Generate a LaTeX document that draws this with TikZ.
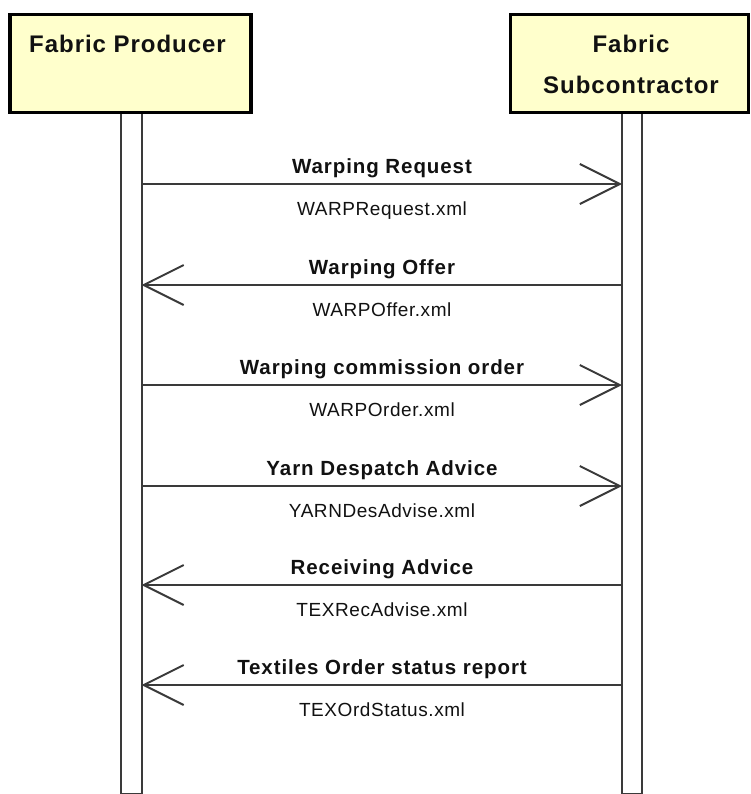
\documentclass[tikz,border=0pt]{standalone}
\usepackage{fontspec}
\setmainfont{Liberation Sans}
\newfontfamily\headfont[LetterSpace=4]{Liberation Sans}
\newfontfamily\msgfont[LetterSpace=4.5]{Liberation Sans}
\newfontfamily\filefont[LetterSpace=3]{Liberation Sans}
\usetikzlibrary{arrows.meta}
\definecolor{boxfill}{HTML}{FFFFCC}
\definecolor{lineclr}{HTML}{3A3A3A}
\definecolor{textclr}{HTML}{111111}
\begin{document}
\begin{tikzpicture}[x=1bp,y=-1bp,
  actorbox/.style={draw=black, line width=3.5bp, fill=boxfill, inner sep=0pt},
  lifeline/.style={draw=lineclr, line width=2bp, fill=white},
  msg/.style={draw=lineclr, line width=2bp,
    -{Straight Barb[length=40bp,width=40bp,line width=2bp]}},
  headtext/.style={anchor=base, inner sep=0pt, text=textclr,
    font=\headfont\bfseries\fontsize{24bp}{28bp}\selectfont},
  msgtext/.style={anchor=base, inner sep=0pt, text=textclr,
    font=\msgfont\bfseries\fontsize{20.5bp}{24bp}\selectfont},
  filetext/.style={anchor=base, inner sep=0pt, text=textclr,
    font=\filefont\fontsize{19bp}{23bp}\selectfont}]

\useasboundingbox (0,0) rectangle (751,794);

% lifelines
\draw[lifeline] (121,112.5) rectangle (141.5,793.5);
\draw[lifeline] (622,112.5) rectangle (642,793.5);

% participant boxes
\node[actorbox, minimum width=241.25bp, minimum height=98bp] (prodbox) at (130.4,63.5) {};
\node[actorbox, minimum width=238bp, minimum height=98bp] (subbox) at (629.5,63.5) {};
\node[headtext] (prodname) at (127.5,53) {Fabric Producer};
\node[headtext] (subname1) at (631,53) {Fabric};
\node[headtext] (subname2) at (631,93) {Subcontractor};

% message end points on the lifelines
\foreach \i/\y in {1/184,2/285,3/385,4/486,5/585,6/685}{
  \coordinate (p\i) at (141.5,\y);
  \coordinate (s\i) at (622,\y);
  \coordinate (m\i) at (382,\y);
}

% messages
\draw[msg] (p1) -- (s1);
\draw[msg] (s2) -- (p2);
\draw[msg] (p3) -- (s3);
\draw[msg] (p4) -- (s4);
\draw[msg] (s5) -- (p5);
\draw[msg] (s6) -- (p6);

% message names and document files
\node[msgtext]  (l1) at ([yshift=11bp]m1) {Warping Request};
\node[filetext] (f1) at ([yshift=-31bp]m1) {WARPRequest.xml};
\node[msgtext]  (l2) at ([yshift=11bp]m2) {Warping Offer};
\node[filetext] (f2) at ([yshift=-31bp]m2) {WARPOffer.xml};
\node[msgtext]  (l3) at ([yshift=11bp]m3) {Warping commission order};
\node[filetext] (f3) at ([yshift=-31bp]m3) {WARPOrder.xml};
\node[msgtext]  (l4) at ([yshift=11bp]m4) {Yarn Despatch Advice};
\node[filetext] (f4) at ([yshift=-31bp]m4) {YARNDesAdvise.xml};
\node[msgtext]  (l5) at ([yshift=11bp]m5) {Receiving Advice};
\node[filetext] (f5) at ([yshift=-31bp]m5) {TEXRecAdvise.xml};
\node[msgtext]  (l6) at ([yshift=11bp]m6) {Textiles Order status report};
\node[filetext] (f6) at ([yshift=-31bp]m6) {TEXOrdStatus.xml};
\end{tikzpicture}
\end{document}
